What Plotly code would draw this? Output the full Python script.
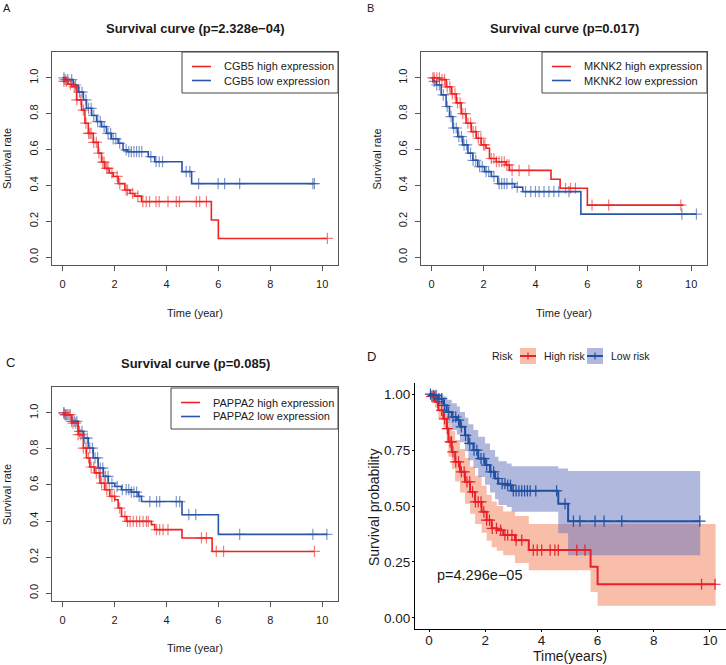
import numpy as np
import plotly.graph_objects as go

W, H = 726, 665
FONT = "Liberation Sans, Arial, Helvetica, sans-serif"

# ---------------- data ----------------
# Panel A: CGB5
a_high_t = [0, 0.05, 0.2, 0.35, 0.54, 0.73, 0.86, 0.99, 1.18, 1.37, 1.5, 1.63, 1.8, 1.95, 2.14, 2.4, 2.6, 2.78, 3.04, 5.73, 6.0]
a_high_s = [1.0, 0.98, 0.965, 0.95, 0.877, 0.82, 0.747, 0.69, 0.64, 0.58, 0.53, 0.495, 0.47, 0.45, 0.41, 0.374, 0.355, 0.34, 0.31, 0.207, 0.104]
a_high_end = 10.2
a_high_cens = [0.05, 0.15, 0.3, 0.45, 0.55, 0.7, 0.8, 0.9, 1.0, 1.05, 1.1, 1.2, 1.3, 1.4, 1.55, 1.6, 1.7, 1.75, 1.9, 2.1, 2.2,
               2.45, 2.5, 2.7, 2.9, 3.09, 3.22, 3.35, 3.6, 3.72, 4.06, 4.38, 4.5, 5.15, 5.28, 5.54, 10.2]
a_low_t = [0, 0.1, 0.41, 0.6, 0.8, 0.92, 1.12, 1.31, 1.5, 1.69, 1.88, 2.14, 2.33, 2.5, 3.3, 3.55, 4.6, 4.97]
a_low_s = [1.0, 0.99, 0.96, 0.92, 0.877, 0.83, 0.79, 0.756, 0.728, 0.69, 0.66, 0.635, 0.598, 0.588, 0.56, 0.532, 0.477, 0.41]
a_low_end = 9.7
a_low_cens = [0.05, 0.1, 0.2, 0.35, 0.5, 0.65, 0.75, 0.9, 1.0, 1.1, 1.2, 1.35, 1.45, 1.6, 1.75, 1.85, 1.95, 2.05, 2.2, 2.45,
              2.55, 2.65, 2.75, 2.85, 2.95, 3.05, 3.4, 3.6, 3.72, 3.85, 4.76, 4.9, 5.24, 5.99, 6.24, 6.82, 9.64, 9.7]

# Panel B: MKNK2
b_high_t = [0, 0.31, 0.56, 0.76, 0.95, 1.14, 1.33, 1.53, 1.72, 1.91, 2.1, 2.23, 2.49, 2.87, 3.0, 4.6, 4.95, 6.0]
b_high_s = [1.0, 0.99, 0.95, 0.91, 0.86, 0.80, 0.747, 0.70, 0.663, 0.626, 0.607, 0.55, 0.532, 0.514, 0.484, 0.434, 0.384, 0.29]
b_high_end = 9.7
b_high_cens = [0.05, 0.1, 0.2, 0.3, 0.4, 0.5, 0.6, 0.7, 0.8, 0.9, 1.0, 1.1, 1.2, 1.3, 1.4, 1.5, 1.6, 1.7, 1.8, 1.9, 2.0,
               2.05, 2.3, 2.4, 2.5, 2.6, 2.7, 2.8, 2.9, 2.98, 3.1, 3.37, 3.75, 5.16, 5.35, 5.54, 6.18, 6.82, 9.6]
b_low_t = [0, 0.05, 0.18, 0.37, 0.56, 0.69, 0.82, 1.01, 1.2, 1.4, 1.59, 1.78, 2.04, 2.3, 2.55, 3.2, 3.51, 5.75]
b_low_s = [1.0, 0.98, 0.96, 0.905, 0.84, 0.784, 0.72, 0.672, 0.626, 0.58, 0.54, 0.505, 0.477, 0.45, 0.41, 0.39, 0.365, 0.24]
b_low_end = 10.2
b_low_cens = [0.1, 0.2, 0.3, 0.45, 0.6, 0.75, 0.85, 0.95, 1.05, 1.15, 1.25, 1.35, 1.5, 1.6, 1.7, 1.85, 1.95, 2.1, 2.2, 2.4,
              2.6, 2.7, 2.8, 2.9, 3.1, 3.3, 3.62, 3.82, 4.0, 4.14, 4.33, 4.52, 4.71, 4.9, 5.29, 9.64, 10.2]

# Panel C: PAPPA2
c_high_t = [0, 0.1, 0.35, 0.6, 0.8, 0.92, 1.05, 1.24, 1.44, 1.63, 1.82, 2.01, 2.14, 2.27, 2.46, 3.42, 3.55, 4.6, 5.76]
c_high_s = [1.0, 0.99, 0.944, 0.88, 0.805, 0.75, 0.70, 0.667, 0.61, 0.574, 0.537, 0.518, 0.472, 0.425, 0.398, 0.38, 0.352, 0.306, 0.231]
c_high_end = 9.7
c_high_cens = [0.05, 0.1, 0.2, 0.3, 0.4, 0.5, 0.6, 0.7, 0.8, 0.9, 1.0, 1.1, 1.2, 1.3, 1.4, 1.5, 1.6, 1.7, 1.8, 1.9, 2.0,
               2.2, 2.4, 2.5, 2.6, 2.72, 2.85, 2.97, 3.1, 3.23, 3.3, 3.62, 3.74, 3.87, 4.06, 5.35, 5.54, 5.92, 6.2, 9.7]
c_low_t = [0, 0.1, 0.35, 0.6, 0.8, 0.99, 1.18, 1.37, 1.57, 1.76, 2.01, 2.27, 2.65, 2.91, 3.04, 4.6, 6.0]
c_low_s = [1.0, 0.99, 0.953, 0.898, 0.86, 0.805, 0.75, 0.694, 0.648, 0.61, 0.592, 0.574, 0.56, 0.537, 0.508, 0.435, 0.326]
c_low_end = 10.2
c_low_cens = [0.05, 0.1, 0.15, 0.25, 0.35, 0.45, 0.55, 0.65, 0.75, 0.85, 0.95, 1.05, 1.15, 1.25, 1.35, 1.45, 1.55, 1.65,
              1.75, 1.9, 2.1, 2.3, 2.45, 2.55, 2.65, 2.75, 2.85, 2.95, 3.36, 3.62, 3.74, 4.38, 4.51, 4.86, 5.13, 6.82, 9.64, 10.18]

# Panel D: risk score (with 95% CI)
d_high_t = [0, 0.1, 0.21, 0.33, 0.51, 0.63, 0.69, 0.81, 0.93, 1.1, 1.28, 1.46, 1.64, 1.87, 2.05, 2.23, 2.41, 2.64, 3.06, 3.55, 5.75, 6.0]
d_high_s = [1.0, 0.99, 0.966, 0.928, 0.89, 0.846, 0.787, 0.742, 0.697, 0.653, 0.608, 0.563, 0.518, 0.474, 0.437, 0.40, 0.392, 0.37, 0.347, 0.303, 0.228, 0.15]
d_high_up = [1.0, 1.0, 0.99, 0.97, 0.94, 0.91, 0.87, 0.835, 0.795, 0.755, 0.715, 0.675, 0.635, 0.59, 0.55, 0.52, 0.50, 0.475, 0.455, 0.42, 0.42, 0.42]
d_high_lo = [1.0, 0.97, 0.94, 0.89, 0.845, 0.79, 0.72, 0.665, 0.61, 0.56, 0.51, 0.465, 0.42, 0.38, 0.345, 0.315, 0.30, 0.28, 0.245, 0.213, 0.116, 0.054]
d_high_end = 10.2
d_high_cens = [0.1, 0.2, 0.3, 0.45, 0.55, 0.65, 0.75, 0.8, 0.85, 0.95, 1.05, 1.15, 1.25, 1.35, 1.45, 1.55, 1.65, 1.75, 1.85,
               1.95, 2.05, 2.15, 2.25, 2.4, 2.55, 2.7, 2.8, 2.95, 3.1, 3.3, 3.71, 3.85, 4.01, 4.31, 4.48, 4.6, 5.26, 5.55, 9.7, 10.18]
d_low_t = [0, 0.1, 0.33, 0.51, 0.63, 0.81, 0.99, 1.1, 1.28, 1.4, 1.58, 1.75, 1.99, 2.17, 2.35, 2.47, 2.77, 2.94, 4.6, 4.95]
d_low_s = [1.0, 0.995, 0.98, 0.95, 0.92, 0.898, 0.884, 0.854, 0.816, 0.78, 0.75, 0.712, 0.683, 0.653, 0.623, 0.60, 0.593, 0.568, 0.51, 0.432]
d_low_up = [1.0, 1.0, 1.0, 0.99, 0.975, 0.96, 0.945, 0.92, 0.895, 0.865, 0.84, 0.81, 0.78, 0.75, 0.72, 0.70, 0.69, 0.678, 0.668, 0.657]
d_low_lo = [1.0, 0.985, 0.955, 0.915, 0.87, 0.84, 0.82, 0.785, 0.745, 0.705, 0.67, 0.63, 0.595, 0.56, 0.53, 0.505, 0.495, 0.474, 0.378, 0.28]
d_low_end = 9.65
d_low_cens = [0.05, 0.15, 0.25, 0.35, 0.45, 0.55, 0.7, 0.85, 0.95, 1.05, 1.15, 1.3, 1.45, 1.6, 1.7, 1.85, 1.95, 2.05, 2.2,
              2.3, 2.45, 2.6, 2.7, 2.8, 2.9, 3.0, 3.1, 3.2, 3.3, 3.4, 3.5, 3.6, 3.8, 4.54, 4.84, 5.14, 5.37, 5.91, 6.23, 6.86, 9.64]

titles = ["Survival curve (p=2.328e\u221204)", "Survival curve (p=0.017)", "Survival curve (p=0.085)"]
genes = ["CGB5", "MKNK2", "PAPPA2"]
d_pvalue = "p=4.296e\u221205"
x_ticks = [0, 2, 4, 6, 8, 10]
y_ticks_r = [0.0, 0.2, 0.4, 0.6, 0.8, 1.0]
y_ticks_d = [0.0, 0.25, 0.5, 0.75, 1.0]

# ---------------- styles ----------------
RED, BLUE = "#EE2424", "#2A55A8"
D_RED, D_BLUE = "#E8202A", "#2150A0"
D_RED_FILL = "rgba(241,125,85,0.5)"
D_BLUE_FILL = "rgba(99,113,189,0.5)"
TXT = "#1a1a1a"


def px_x(p):
    return p / W


def px_y(p):
    return 1 - p / H


def step_xy(t, s, end):
    return list(t) + [end], list(s) + [s[-1]]


def km_at(t, s, c):
    idx = np.searchsorted(np.asarray(t), np.asarray(c), side="right") - 1
    return np.asarray(s)[idx]


fig = go.Figure()


def add_curve(t, s, end, cens, color, xa, ya, lw, mop):
    x, y = step_xy(t, s, end)
    fig.add_trace(go.Scatter(x=x, y=y, mode="lines", line=dict(color=color, width=lw, shape="hv"),
                             xaxis=xa, yaxis=ya, showlegend=False, hoverinfo="skip"))
    fig.add_trace(go.Scatter(x=cens, y=km_at(t, s, cens), mode="markers",
                             marker=dict(symbol="cross-thin", size=8, opacity=mop,
                                         line=dict(color=color, width=1.2)),
                             xaxis=xa, yaxis=ya, showlegend=False, hoverinfo="skip"))


panels = [
    (a_high_t, a_high_s, a_high_end, a_high_cens, a_low_t, a_low_s, a_low_end, a_low_cens, "x", "y"),
    (b_high_t, b_high_s, b_high_end, b_high_cens, b_low_t, b_low_s, b_low_end, b_low_cens, "x2", "y2"),
    (c_high_t, c_high_s, c_high_end, c_high_cens, c_low_t, c_low_s, c_low_end, c_low_cens, "x3", "y3"),
]
for ht, hs, he, hc, lt, ls, le, lc, xa, ya in panels:
    add_curve(lt, ls, le, lc, BLUE, xa, ya, 1.6, 0.6)
    add_curve(ht, hs, he, hc, RED, xa, ya, 1.6, 0.6)

# Panel D bands
for t, lo, up, end, fillc in [(d_high_t, d_high_lo, d_high_up, d_high_end, D_RED_FILL),
                              (d_low_t, d_low_lo, d_low_up, d_low_end, D_BLUE_FILL)]:
    xl, yl = step_xy(t, lo, end)
    xu, yu = step_xy(t, up, end)
    fig.add_trace(go.Scatter(x=xl, y=yl, mode="lines", line=dict(width=0, shape="hv"),
                             xaxis="x4", yaxis="y4", showlegend=False, hoverinfo="skip"))
    fig.add_trace(go.Scatter(x=xu, y=yu, mode="lines", line=dict(width=0, shape="hv"), fill="tonexty",
                             fillcolor=fillc, xaxis="x4", yaxis="y4", showlegend=False, hoverinfo="skip"))
add_curve(d_high_t, d_high_s, d_high_end, d_high_cens, D_RED, "x4", "y4", 2.0, 1.0)
add_curve(d_low_t, d_low_s, d_low_end, d_low_cens, D_BLUE, "x4", "y4", 2.0, 1.0)

# ---------------- axes ----------------
def r_axes(x0, x1, top, bottom):
    xa = dict(domain=[px_x(x0), px_x(x1)], range=[-0.408, 10.608], tickvals=x_ticks,
              showline=True, mirror=True, linecolor="#555", linewidth=1, ticks="outside", ticklen=5,
              tickcolor="#555", tickfont=dict(size=11, color=TXT, family=FONT), showgrid=False,
              zeroline=False, ticklabelstandoff=4, fixedrange=True, automargin=False)
    ya = dict(domain=[px_y(bottom), px_y(top)], range=[-0.044, 1.144], tickvals=y_ticks_r, tickformat=".1f",
              tickangle=-90, showline=True, mirror=True, linecolor="#555", linewidth=1, ticks="outside",
              ticklen=5, tickcolor="#555", tickfont=dict(size=11, color=TXT, family=FONT), showgrid=False,
              zeroline=False, ticklabelstandoff=4, fixedrange=True, automargin=False)
    return xa, ya


xa1, ya1 = r_axes(52, 338, 52, 265)
xa2, ya2 = r_axes(421, 707, 52, 265)
xa3, ya3 = r_axes(52, 338, 387, 601)
xa1["anchor"], ya1["anchor"] = "y", "x"
xa2["anchor"], ya2["anchor"] = "y2", "x2"
xa3["anchor"], ya3["anchor"] = "y3", "x3"

xa4 = dict(domain=[px_x(415), 1.0], range=[-0.5, 10.57], tickvals=x_ticks, anchor="y4",
           showline=True, mirror=False, linecolor="black", linewidth=1, ticks="outside", ticklen=2,
           tickcolor="black", tickfont=dict(size=13.5, color=TXT, family=FONT), showgrid=False, zeroline=False,
           fixedrange=True, automargin=False, ticklabelstandoff=-3)
ya4 = dict(domain=[px_y(629), px_y(383)], range=[-0.05, 1.05], tickvals=y_ticks_d, tickformat=".2f",
           anchor="x4", showline=True, mirror=False, linecolor="black", linewidth=1, ticks="outside",
           ticklen=2, tickcolor="black", tickfont=dict(size=13.5, color=TXT, family=FONT), showgrid=False,
           zeroline=False, fixedrange=True, automargin=False, ticklabelstandoff=-1)

# ---------------- text ----------------
ann = []


def text(s, x, y, size, xanchor="center", angle=0, bold=False, color=TXT):
    ann.append(dict(text=("<b>%s</b>" % s) if bold else s, x=px_x(x), y=px_y(y), xref="paper", yref="paper",
                    xanchor=xanchor, yanchor="middle", showarrow=False, textangle=angle,
                    font=dict(size=size, color=color, family=FONT)))


# panel letters
text("A", 6.5, 8, 11)
text("B", 370.5, 8, 11)
text("C", 10.5, 362.5, 13)
text("D", 371.5, 356, 13)
# titles
text(titles[0], 195, 28.5, 13, bold=True)
text(titles[1], 564, 28.5, 13, bold=True)
text(titles[2], 195, 363, 13, bold=True)
# axis titles
text("Time (year)", 195.5, 313, 11)
text("Time (year)", 564, 313, 11)
text("Time (year)", 195.5, 648, 11)
text("Survival rate", 7, 159, 11, angle=-90)
text("Survival rate", 376.5, 159, 11, angle=-90)
text("Survival rate", 7, 495, 11, angle=-90)
text("Time(years)", 570, 656, 14)
text("Survival probability", 374, 507, 14, angle=-90)
# p value in D (data coords)
ann.append(dict(text=d_pvalue, x=0.2, y=0.19, xref="x4", yref="y4", xanchor="left", yanchor="middle",
                showarrow=False, font=dict(size=14.5, color=TXT, family=FONT)))

# ---------------- legends (drawn) ----------------
shapes = []


def r_legend(left, top, right, gene):
    shapes.append(dict(type="rect", xref="paper", yref="paper", x0=px_x(left), x1=px_x(right),
                       y0=px_y(top + 41), y1=px_y(top), line=dict(color="#444", width=1), fillcolor="white",
                       layer="above"))
    for i, (lab, col) in enumerate([("high expression", RED), ("low expression", BLUE)]):
        yy = top + 14.5 + 14 * i
        shapes.append(dict(type="line", xref="paper", yref="paper", x0=px_x(left + 10), x1=px_x(left + 29),
                           y0=px_y(yy), y1=px_y(yy), line=dict(color=col, width=1.6), layer="above"))
        text("%s %s" % (gene, lab), left + 40, yy, 11, xanchor="left")


r_legend(182, 52, 338, genes[0])
r_legend(542, 52, 707, genes[1])
r_legend(171, 388, 338, genes[2])

# D legend
text("Risk", 503, 356, 10.5)
for (kx, col, fillc, lab) in [(520, D_RED, D_RED_FILL, "High risk"), (587, D_BLUE, D_BLUE_FILL, "Low risk")]:
    shapes.append(dict(type="rect", xref="paper", yref="paper", x0=px_x(kx), x1=px_x(kx + 16),
                       y0=px_y(364), y1=px_y(348), line=dict(width=0), fillcolor=fillc))
    shapes.append(dict(type="line", xref="paper", yref="paper", x0=px_x(kx), x1=px_x(kx + 16),
                       y0=px_y(356), y1=px_y(356), line=dict(color=col, width=2)))
    shapes.append(dict(type="line", xref="paper", yref="paper", x0=px_x(kx + 8), x1=px_x(kx + 8),
                       y0=px_y(352.5), y1=px_y(359.5), line=dict(color=col, width=1.2)))
    text(lab, kx + 22, 356, 10.5, xanchor="left")

fig.update_layout(
    width=W, height=H, margin=dict(l=0, r=0, t=0, b=0, autoexpand=False),
    paper_bgcolor="white", plot_bgcolor="white", showlegend=False,
    xaxis=xa1, yaxis=ya1, xaxis2=xa2, yaxis2=ya2, xaxis3=xa3, yaxis3=ya3, xaxis4=xa4, yaxis4=ya4,
    annotations=ann, shapes=shapes, font=dict(family=FONT, color=TXT),
)

fig.write_html("out.html", config={"displayModeBar": False, "staticPlot": True},
               post_script="document.body.style.margin='0';document.body.style.padding='0';"
                           "document.documentElement.style.overflow='hidden';")
